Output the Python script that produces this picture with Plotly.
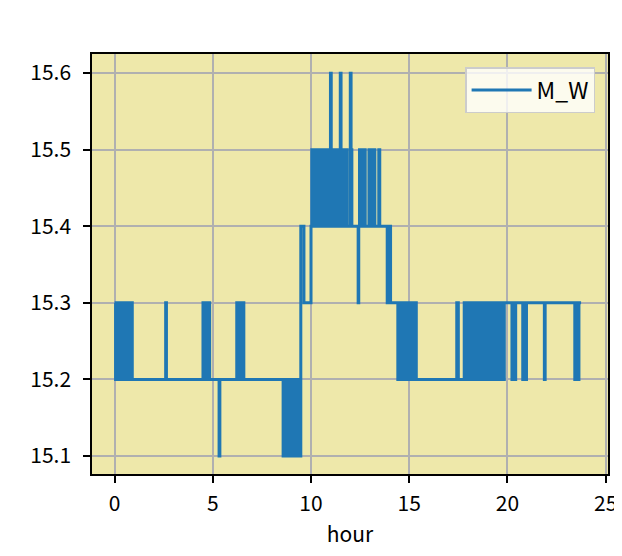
import plotly.graph_objects as go

# hour of each change point, M_W value held from that hour on (step data)
hour = [
    # 0 - 0.9 h, 15.2 / 15.3 chatter
    0.00, 0.05, 0.10, 0.15, 0.20, 0.25, 0.30, 0.35, 0.40, 0.45,
    0.50, 0.55, 0.60, 0.66, 0.72, 0.78, 0.84, 0.90,
    # single spikes and small blocks in the morning
    2.60, 2.64,
    4.50, 4.56, 4.62, 4.66, 4.76, 4.84,
    5.32, 5.36,
    6.22, 6.28, 6.33, 6.38, 6.44, 6.50, 6.54, 6.58,
    # 15.1 / 15.2 block before 9 h
    8.58, 8.63, 8.68, 8.73, 8.78, 8.84, 8.90, 8.96, 9.02, 9.08,
    9.14, 9.20, 9.26, 9.30, 9.33,
    # climb to 15.4 / 15.5
    9.48, 9.64, 10.00,
    10.04, 10.08, 10.13, 10.18, 10.23, 10.28, 10.33, 10.38, 10.43, 10.48,
    10.53, 10.58,
    10.70, 10.76, 10.82, 10.88, 10.94, 10.99, 11.03, 11.05,
    11.20, 11.26, 11.32, 11.38, 11.44, 11.49, 11.53, 11.58, 11.64, 11.70,
    11.76, 11.82,
    11.98, 12.00, 12.04, 12.08,
    12.40, 12.43, 12.47, 12.53, 12.59, 12.65, 12.71, 12.76,
    12.95, 13.01, 13.07, 13.13, 13.19, 13.25,
    13.45, 13.50,
    13.88, 13.95, 14.05,
    # back down, 15.2 / 15.3 block
    14.42, 14.47, 14.52, 14.57, 14.62, 14.67, 14.72, 14.77, 14.82, 14.87,
    14.92, 14.97, 15.02, 15.08, 15.14, 15.20, 15.26, 15.31, 15.36,
    17.42, 17.50,
    # evening chatter
    17.80, 17.86, 17.92, 17.98, 18.04, 18.10, 18.16, 18.22, 18.28, 18.34,
    18.40, 18.46, 18.52, 18.58, 18.64, 18.70, 18.76, 18.82, 18.88, 18.94,
    19.00, 19.06, 19.12, 19.18, 19.24, 19.30, 19.36, 19.42, 19.48, 19.54,
    19.60, 19.66, 19.72, 19.78, 19.84,
    20.23, 20.27, 20.38, 20.42, 20.78, 20.82, 20.93, 20.97,
    21.88, 21.92,
    23.43, 23.50, 23.56, 23.64, 23.75,
]

m_w = [
    15.3, 15.2, 15.3, 15.2, 15.3, 15.2, 15.3, 15.2, 15.3, 15.2,
    15.3, 15.2, 15.3, 15.2, 15.3, 15.2, 15.3, 15.2,
    15.3, 15.2,
    15.3, 15.2, 15.3, 15.2, 15.3, 15.2,
    15.1, 15.2,
    15.3, 15.2, 15.3, 15.2, 15.3, 15.2, 15.3, 15.2,
    15.1, 15.2, 15.1, 15.2, 15.1, 15.2, 15.1, 15.2, 15.1, 15.2,
    15.1, 15.2, 15.1, 15.2, 15.1,
    15.4, 15.3, 15.4,
    15.5, 15.4, 15.5, 15.4, 15.5, 15.4, 15.5, 15.4, 15.5, 15.4,
    15.5, 15.4,
    15.5, 15.4, 15.5, 15.4, 15.5, 15.6, 15.5, 15.4,
    15.5, 15.4, 15.5, 15.4, 15.5, 15.6, 15.5, 15.4, 15.5, 15.4,
    15.5, 15.4,
    15.5, 15.6, 15.5, 15.4,
    15.3, 15.4, 15.5, 15.4, 15.5, 15.4, 15.5, 15.4,
    15.5, 15.4, 15.5, 15.4, 15.5, 15.4,
    15.5, 15.4,
    15.3, 15.4, 15.3,
    15.2, 15.3, 15.2, 15.3, 15.2, 15.3, 15.2, 15.3, 15.2, 15.3,
    15.2, 15.3, 15.2, 15.3, 15.2, 15.3, 15.2, 15.3, 15.2,
    15.3, 15.2,
    15.3, 15.2, 15.3, 15.2, 15.3, 15.2, 15.3, 15.2, 15.3, 15.2,
    15.3, 15.2, 15.3, 15.2, 15.3, 15.2, 15.3, 15.2, 15.3, 15.2,
    15.3, 15.2, 15.3, 15.2, 15.3, 15.2, 15.3, 15.2, 15.3, 15.2,
    15.3, 15.2, 15.3, 15.2, 15.3,
    15.2, 15.3, 15.2, 15.3, 15.2, 15.3, 15.2, 15.3,
    15.2, 15.3,
    15.2, 15.3, 15.2, 15.3, 15.3,
]

assert len(hour) == len(m_w)

font_jp = "Noto Sans CJK JP"

fig = go.Figure()
fig.add_trace(go.Scatter(x=hour, y=m_w, mode="lines", name="M_W",
                         line=dict(color="#1f77b4", width=3, shape="hv")))

axis_style = dict(showline=True, linecolor="black", linewidth=1.5, mirror=True,
                  ticks="outside", ticklen=7, tickwidth=1.5, tickcolor="black",
                  showgrid=True, gridcolor="#b0b0b0", gridwidth=1.6,
                  zeroline=False, automargin=False, ticklabeloverflow="allow",
                  tickfont=dict(family=font_jp, size=21, color="black"))

fig.update_xaxes(range=[-1.15, 25.12], tickvals=[0, 5, 10, 15, 20, 25],
                 ticklabelstandoff=3,
                 title=dict(text="hour", font=dict(family=font_jp, size=21, color="black"), standoff=12),
                 **axis_style)
fig.update_yaxes(range=[15.0765, 15.625], tickvals=[15.1, 15.2, 15.3, 15.4, 15.5, 15.6],
                 tickformat=".1f", ticklabelstandoff=8, **axis_style)

# the page body adds 8 px round the figure, so keep it inside the window
fig.update_layout(
    width=614, height=540,
    margin=dict(l=84, r=14, t=46, b=74),
    paper_bgcolor="white",
    plot_bgcolor="#EEE8AA",
    showlegend=True,
    legend=dict(x=0.975, y=0.969, xanchor="right", yanchor="top",
                bgcolor="rgba(255,255,255,0.8)", bordercolor="#cccccc", borderwidth=1.5,
                font=dict(family=font_jp, size=23, color="black"), itemwidth=60,
                tracegroupgap=0),
)

fig.write_html("out.html")
